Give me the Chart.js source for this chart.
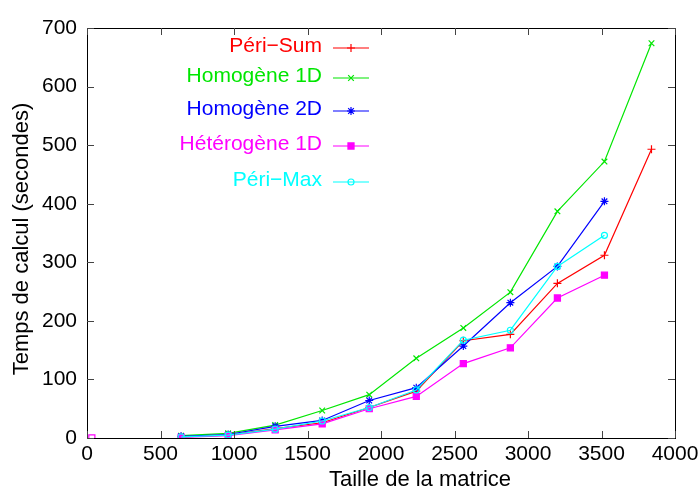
<!DOCTYPE html>
<html>
<head>
<meta charset="utf-8">
<script src="https://cdn.jsdelivr.net/npm/chart.js@4"></script>
<style>
	html, body { margin: 0; padding: 0; background: #fff; }
	#wrap { width: 700px; height: 491px; }
</style>
</head>
<body>
<div id="wrap"><canvas id="tempsCalcul"></canvas></div>
<script>
// tailles de matrice (axe x)
const tailles = [640, 960, 1280, 1600, 1920, 2240, 2560, 2880, 3200, 3520, 3840];
// temps de calcul en secondes
const periSum = [2, 5, 16, 26, 52, 80, 166, 177, 264, 312, 493];
const homogene1D = [4, 8, 22, 47, 74, 136, 188, 249, 387, 472, 674];
const homogene2D = [3, 6, 20, 30, 64, 86, 157, 231, 293, 404];
const heterogene1D = [1, 4, 14, 24, 50, 71, 127, 154, 239, 278];
const periMax = [2, 5, 15, 29, 52, 82, 167, 184, 293, 346];
// point isolé près de l'origine
const pointIsoleX = [33];
const pointIsoleY = [0];

const xTicks = [0, 500, 1000, 1500, 2000, 2500, 3000, 3500, 4000];
const yTicks = [0, 100, 200, 300, 400, 500, 600, 700];

const toPoints = (xs, ys) => ys.map((y, i) => ({x: xs[i], y: y}));

const FONT = "'Liberation Sans', Arial, Helvetica, sans-serif";

// Cadre, graduations internes, titres des axes et légende
const gnuplotStyle = {
	id: "gnuplotStyle",
	afterDraw(chart) {
		const ctx = chart.ctx;
		const area = chart.chartArea;
		const xs = chart.scales.x;
		const ys = chart.scales.y;
		ctx.save();
		// cadre
		ctx.strokeStyle = "#000";
		ctx.lineWidth = 1;
		ctx.strokeRect(Math.round(area.left) + 0.5, Math.round(area.top) + 0.5,
			Math.round(area.right - area.left), Math.round(area.bottom - area.top));
		// graduations vers l'intérieur
		ctx.strokeStyle = "#444";
		const tl = 7;
		ctx.beginPath();
		xTicks.forEach((v) => {
			const px = Math.round(xs.getPixelForValue(v)) + 0.5;
			ctx.moveTo(px, area.bottom); ctx.lineTo(px, area.bottom - tl);
			ctx.moveTo(px, area.top); ctx.lineTo(px, area.top + tl);
		});
		yTicks.forEach((v) => {
			const py = Math.round(ys.getPixelForValue(v)) + 0.5;
			ctx.moveTo(area.left, py); ctx.lineTo(area.left + tl, py);
			ctx.moveTo(area.right, py); ctx.lineTo(area.right - tl, py);
		});
		ctx.stroke();
		// titres des axes
		ctx.fillStyle = "#000";
		ctx.font = "22px " + FONT;
		ctx.textAlign = "center";
		ctx.textBaseline = "middle";
		ctx.fillText("Taille de la matrice", 420, 480);
		ctx.save();
		ctx.translate(22, 239);
		ctx.rotate(-Math.PI / 2);
		ctx.fillText("Temps de calcul (secondes)", 0, 0);
		ctx.restore();
		// légende
		const rows = [48, 78, 111, 146, 182];
		let r = 0;
		chart.data.datasets.forEach((ds) => {
			if (!ds.label) return;
			const y = rows[r++];
			ctx.fillStyle = ds.borderColor;
			ctx.textAlign = "right";
			ctx.font = "21px " + FONT;
			ctx.fillText(ds.label, 322, y - 2);
			ctx.strokeStyle = ds.borderColor;
			ctx.lineWidth = 1.2;
			ctx.beginPath();
			ctx.moveTo(333, y); ctx.lineTo(369, y);
			ctx.stroke();
			ctx.fillStyle = ds.pointBackgroundColor;
			Chart.helpers.drawPoint(ctx, {
				pointStyle: ds.pointStyle,
				radius: ds.pointRadius,
				rotation: 0,
				borderWidth: 1.2,
			}, 351, y);
		});
		ctx.restore();
	},
};

const makeSet = (label, ys, color, style, radius, fill, order) => ({
	label: label,
	data: toPoints(tailles, ys),
	borderColor: color,
	backgroundColor: color,
	pointBorderColor: color,
	pointBackgroundColor: fill ? color : "rgba(0,0,0,0)",
	pointStyle: style,
	pointRadius: radius,
	pointBorderWidth: 1.2,
	borderWidth: 1.2,
	fill: false,
	tension: 0,
	order: order,
});

const datasets = [
	makeSet("Péri−Sum", periSum, "#ff0000", "cross", 4, false, 6),
	makeSet("Homogène 1D", homogene1D, "#00e600", "crossRot", 4, false, 5),
	makeSet("Homogène 2D", homogene2D, "#0000ff", "star", 4, false, 4),
	makeSet("Hétérogène 1D", heterogene1D, "#ff00ff", "rect", 4.3, true, 3),
	makeSet("Péri−Max", periMax, "#00ffff", "circle", 3, false, 2),
	{
		label: "",
		data: toPoints(pointIsoleX, pointIsoleY),
		borderColor: "#ff00ff",
		pointBorderColor: "#ff00ff",
		pointBackgroundColor: "rgba(0,0,0,0)",
		pointStyle: "rect",
		pointRadius: 4.3,
		pointBorderWidth: 1.2,
		showLine: false,
		order: 1,
	},
];

const canvas = document.getElementById("tempsCalcul").getContext("2d");
new Chart(canvas, {
	type: "line",
	data: {datasets: datasets},
	options: {
		responsive: true,
		maintainAspectRatio: false,
		animation: false,
		layout: {padding: {left: 0, right: 25, top: 28, bottom: 0}},
		plugins: {
			legend: {display: false},
			tooltip: {enabled: false},
		},
		scales: {
			x: {
				type: "linear",
				min: 0,
				max: 4000,
				afterFit: (scale) => {
					scale.height = 53;
					scale.paddingLeft = 0;
					scale.paddingRight = 0;
				},
				afterBuildTicks: (scale) => { scale.ticks = xTicks.map((v) => ({value: v})); },
				grid: {display: false, drawTicks: false},
				border: {display: false},
				ticks: {
					color: "#000",
					padding: 4,
					maxRotation: 0,
					font: {family: FONT, size: 21},
					callback: (v) => String(v),
				},
			},
			y: {
				min: 0,
				max: 700,
				afterFit: (scale) => {
					scale.width = 87;
					scale.paddingTop = 0;
					scale.paddingBottom = 0;
				},
				afterBuildTicks: (scale) => { scale.ticks = yTicks.map((v) => ({value: v})); },
				grid: {display: false, drawTicks: false},
				border: {display: false},
				ticks: {
					color: "#000",
					padding: 10,
					font: {family: FONT, size: 21},
					callback: (v) => String(v),
				},
			},
		},
	},
	plugins: [gnuplotStyle],
});
</script>
</body>
</html>
